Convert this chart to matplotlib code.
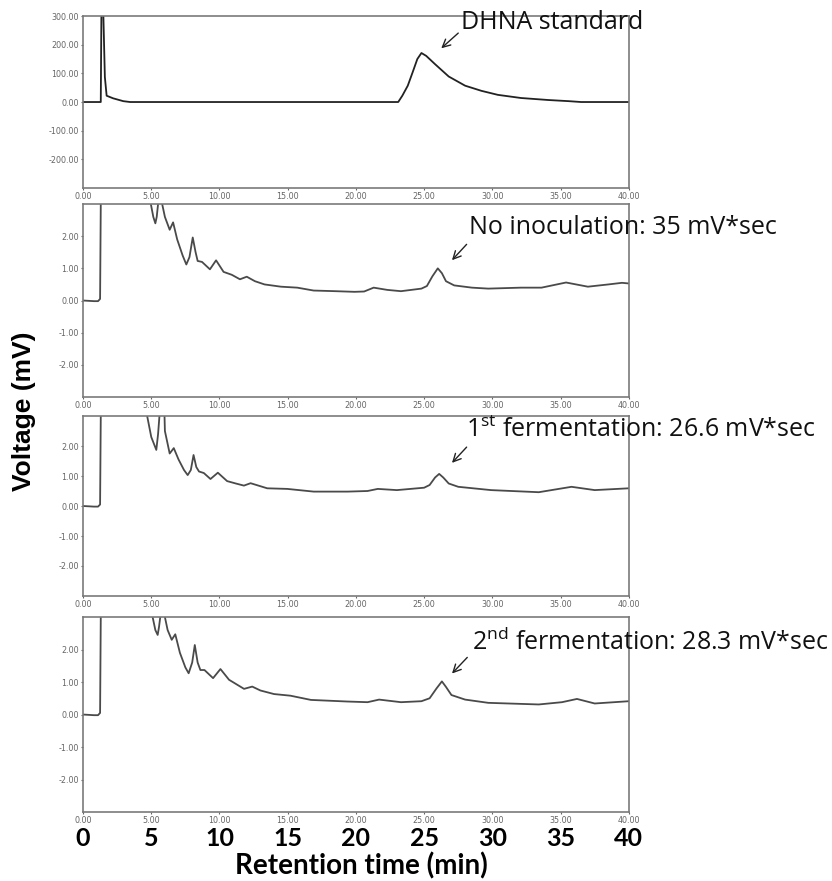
import matplotlib
matplotlib.use("Agg")
import matplotlib.pyplot as plt

plt.rcParams["mathtext.fontset"] = "custom"
plt.rcParams["mathtext.rm"] = "Open Sans"

# retention time (min) / voltage readings
dhna_time = [0, 1.3, 1.36, 1.44, 1.6, 1.73, 2.2, 2.95, 3.45, 23.1, 23.4, 23.8, 24.15,
             24.5, 24.8, 25.15, 25.8, 26.8, 28.0, 29.2, 30.4, 32.1, 34.1, 35.6, 36.5, 40]
dhna_mv = [0, 0, 400, 400, 87, 22, 13, 3, 0, 0, 22, 57, 103,
           150, 171, 161, 132, 89, 57, 39, 25, 14, 7, 3, 0, 0]

noinoc_time = [0, 0.8, 1.1, 1.25, 1.3, 1.4, 4.8, 4.97, 5.15, 5.3, 5.4, 5.5, 5.6, 5.7,
               5.8, 6.0, 6.35, 6.6, 6.9, 7.3, 7.57, 7.8, 8.04, 8.25, 8.4, 8.72, 9.3,
               9.75, 10.3, 10.9, 11.5, 12.0, 12.6, 13.3, 14.5, 15.7, 16.9, 18.5, 19.9,
               20.6, 21.3, 22.3, 23.3, 24.8, 25.2, 25.6, 26.0, 26.3, 26.6, 27.2, 28.5,
               29.7, 32.1, 33.6, 35.4, 37.0, 38.5, 39.5, 40]
noinoc_mv = [0.0, -0.02, -0.02, 0.05, 3.0, 6, 6, 3.0, 2.6, 2.4, 2.6, 3.0, 6, 6,
             3.0, 2.6, 2.2, 2.43, 1.9, 1.4, 1.12, 1.35, 1.96, 1.5, 1.23, 1.2, 0.97,
             1.25, 0.89, 0.8, 0.66, 0.74, 0.6, 0.5, 0.43, 0.4, 0.31, 0.29, 0.27,
             0.28, 0.4, 0.33, 0.29, 0.37, 0.45, 0.75, 1.0, 0.85, 0.6, 0.47, 0.4,
             0.37, 0.4, 0.4, 0.56, 0.43, 0.5, 0.55, 0.53]

ferm1_time = [0, 0.8, 1.1, 1.25, 1.3, 1.4, 4.5, 4.7, 5.0, 5.37, 5.5, 5.6, 5.7, 5.8,
              6.0, 6.35, 6.65, 7.0, 7.4, 7.67, 7.9, 8.1, 8.3, 8.5, 8.85, 9.34, 9.88,
              10.56, 11.2, 11.79, 12.28, 13.5, 14.97, 16.9, 19.4, 20.85, 21.6, 23.0,
              25.0, 25.4, 25.8, 26.1, 26.4, 26.8, 27.5, 29.9, 33.4, 35.8, 37.5, 40]
ferm1_mv = [0.0, -0.02, -0.02, 0.05, 3.0, 6, 6, 3.0, 2.3, 1.87, 2.4, 3.0, 6, 6,
            2.5, 1.75, 1.93, 1.55, 1.2, 1.03, 1.2, 1.7, 1.3, 1.15, 1.1, 0.9, 1.11,
            0.83, 0.75, 0.68, 0.76, 0.59, 0.57, 0.48, 0.48, 0.5, 0.57, 0.53,
            0.61, 0.7, 0.95, 1.07, 0.95, 0.75, 0.64, 0.53, 0.46, 0.64, 0.53, 0.59]

ferm2_time = [0, 0.8, 1.1, 1.25, 1.3, 1.4, 4.9, 5.1, 5.3, 5.47, 5.57, 5.66, 5.75,
              5.85, 6.0, 6.2, 6.5, 6.76, 7.1, 7.5, 7.74, 8.0, 8.19, 8.4, 8.6, 8.9,
              9.53, 10.07, 10.7, 11.8, 12.4, 13.0, 14.0, 15.2, 16.7, 19.4, 20.85,
              21.7, 23.3, 24.8, 25.4, 25.9, 26.3, 26.6, 27.0, 28.0, 29.7, 33.4, 35.1,
              36.2, 37.5, 40]
ferm2_mv = [0.0, -0.02, -0.02, 0.05, 3.0, 6, 6, 3.0, 2.6, 2.45, 2.7, 3.0, 6,
            6, 3.0, 2.6, 2.3, 2.47, 1.9, 1.45, 1.27, 1.6, 2.14, 1.6, 1.37, 1.37,
            1.12, 1.4, 1.07, 0.79, 0.86, 0.74, 0.63, 0.58, 0.45, 0.4, 0.38,
            0.46, 0.38, 0.41, 0.5, 0.8, 1.02, 0.85, 0.6, 0.46, 0.36, 0.31, 0.38,
            0.48, 0.34, 0.41]

labels = ["DHNA standard",
          "No inoculation: 35 mV*sec",
          r"1$^{\mathrm{st}}$ fermentation: 26.6 mV*sec",
          r"2$^{\mathrm{nd}}$ fermentation: 28.3 mV*sec"]

small_ticks = [0, 5, 10, 15, 20, 25, 30, 35, 40]

fig = plt.figure(figsize=(8.32, 8.81), dpi=100)

boxes = [[0.0998, 0.7866, 0.656, 0.1952],
         [0.0998, 0.5494, 0.656, 0.2190],
         [0.0998, 0.3235, 0.656, 0.2043],
         [0.0998, 0.0783, 0.656, 0.2213]]

traces = [(dhna_time, dhna_mv), (noinoc_time, noinoc_mv),
          (ferm1_time, ferm1_mv), (ferm2_time, ferm2_mv)]

# text baseline, arrow tail, arrow tip (data coords)
notes = [((27.7, 254), (27.65, 247), (26.1, 181)),
         ((28.3, 2.06), (28.25, 1.81), (26.9, 1.19)),
         ((28.1, 2.31), (28.25, 2.03), (26.9, 1.37)),
         ((28.5, 2.0), (28.3, 1.82), (26.9, 1.2))]

spine_grey = "#7a7a7a"
axes = []
for i, (box, (t, v), label, (txt, tail, tip)) in enumerate(
        zip(boxes, traces, labels, notes)):
    ax = fig.add_axes(box)
    ax.plot(t, v, color="#222222" if i == 0 else "#4a4a4a", lw=1.3)
    ax.set_xlim(0, 40)
    if i == 0:
        ax.set_ylim(-300, 300)
        yt = [-200, -100, 0, 100, 200, 300]
    else:
        ax.set_ylim(-3, 3)
        yt = [-2, -1, 0, 1, 2]
    ax.set_yticks(yt)
    ax.set_yticklabels([f"{y:.2f}" for y in yt])
    ax.set_xticks(small_ticks)
    ax.set_xticklabels([f"{x:.2f}" for x in small_ticks])
    ax.tick_params(labelsize=5.8, colors="#666666", length=1.5, pad=1.5)
    for sp in ax.spines.values():
        sp.set_color(spine_grey)
        sp.set_linewidth(1.2)

    ax.text(txt[0], txt[1], label, fontsize=18, family="Open Sans",
            ha="left", va="baseline", color="#111111", clip_on=False, zorder=5)
    ax.annotate("", xy=tip, xytext=tail,
                arrowprops=dict(arrowstyle="->", lw=1.0, color="#222222",
                                mutation_scale=14),
                annotation_clip=False)
    axes.append(ax)

# large minute labels under the last panel
sec = axes[-1].secondary_xaxis("bottom")
sec.set_xticks(small_ticks)
sec.set_xticklabels([str(x) for x in small_ticks])
sec.tick_params(length=0, pad=11, labelsize=18)
for lbl in sec.get_xticklabels():
    lbl.set_fontweight("bold")
    lbl.set_family(["Lato", "DejaVu Sans"])
sec.spines["bottom"].set_visible(False)

fig.text(0.434, 1 - 866 / 881, "Retention time (min)", ha="center", va="center",
         fontsize=20, fontweight="bold", family=["Lato", "DejaVu Sans"])
fig.text(0.029, 1 - 411 / 881, "Voltage (mV)", ha="center", va="center",
         rotation=90, fontsize=19, fontweight="bold",
         family=["Liberation Sans", "DejaVu Sans"])

fig.savefig("out.png", dpi=100)
